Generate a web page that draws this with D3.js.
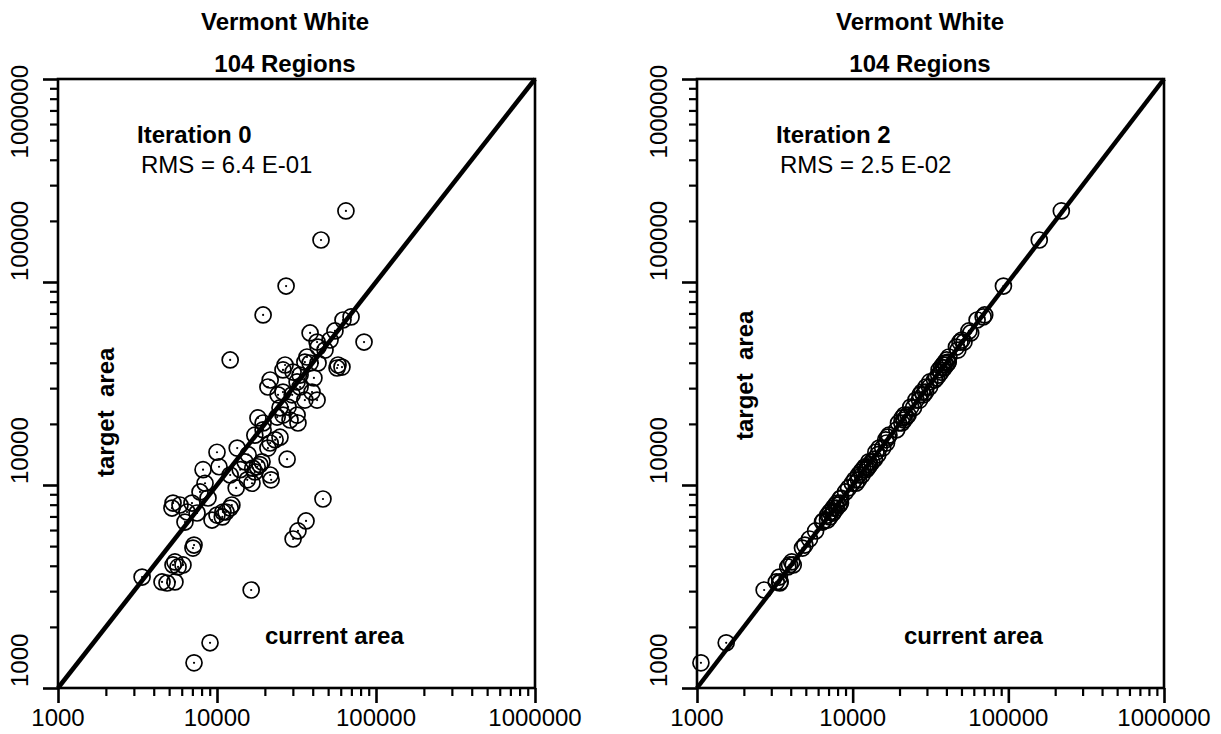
<!DOCTYPE html>
<html>
<head>
<meta charset="utf-8">
<script src="https://cdn.jsdelivr.net/npm/d3@7"></script>
<style>
  html, body { margin: 0; padding: 0; background: #fff; }
  svg { display: block; font-family: "Liberation Sans", Arial, Helvetica, sans-serif; }
</style>
</head>
<body>
<svg id="chart" width="1221" height="734"></svg>
<script>
// ---- text ----
const titleLine1 = "Vermont White";
const titleLine2 = "104 Regions";
const iterationLabels = ["Iteration 0", "Iteration 2"];
const rmsLabels = ["RMS = 6.4 E-01", "RMS = 2.5 E-02"];
const xAxisTitle = "current area";
const yAxisTitle = "target  area";

// ---- tick labels (log axes, both panels) ----
const majorTicks = [1000, 10000, 100000, 1000000];

// ---- data: one entry per region ----
// target area (the same for every iteration)
const targetArea = [
  224000, 161000, 95500, 68800, 41300, 50600, 65000, 67300, 57400, 56100,
  50600, 47800, 39000, 38100, 37700, 42700, 40300, 39900, 39900, 39000,
  36900, 32900, 30400, 32200, 30400, 28700, 28700, 26200, 24200, 22100,
  20200, 21400, 21600, 24000, 17600, 16100, 17200, 15200, 13400, 12300,
  12600, 11200, 11200, 14500, 11900, 12300, 10200, 9670, 8630, 12100,
  11600, 10600, 10200, 10600, 16700, 20200, 22100, 8150, 7700, 8150,
  7360, 7280, 6570, 7110, 6960, 7360, 7970, 7700, 4890, 5060,
  4180, 3950, 4040, 3520, 3330, 3290, 3330, 3040, 1670, 1330,
  8530, 6650, 5940, 5420, 34800, 27800, 26200, 18700, 14100, 13000,
  11900, 7360, 6720, 7970, 46200, 51800, 36000, 27800, 20900, 15200,
  13000, 9240, 4040, 33700
];

// current area at iteration 0
const currentAreaIter0 = [
  64700, 45100, 27200, 19500, 12100, 84100, 62000, 69700, 55200, 38500,
  42600, 43200, 57700, 61100, 56900, 36800, 35700, 38500, 43200, 26800,
  26000, 21600, 20900, 31900, 33300, 26000, 39600, 42600, 28000, 31900,
  32300, 18100, 23900, 24900, 17300, 21600, 24900, 13400, 27600, 17900,
  18600, 21600, 12100, 10000, 8170, 10300, 8410, 13200, 8780, 16800,
  17300, 15500, 16600, 21900, 23200, 19500, 26000, 5290, 5210, 6960,
  6480, 7490, 6290, 10000, 10800, 10900, 12400, 12100, 7060, 7170,
  5440, 5690, 5290, 3380, 4510, 4850, 5440, 16400, 9040, 7170,
  46400, 36300, 32300, 30100, 33300, 29700, 35700, 19500, 15700, 19200,
  14000, 11400, 9300, 5850, 47800, 51400, 30100, 24200, 28800, 20900,
  15000, 7820, 6110, 40700
];

// current area at iteration 2
const currentAreaIter2 = [
  219000, 158000, 93000, 70500, 40200, 48900, 63000, 68900, 55800, 57300,
  51900, 46400, 39800, 37200, 38600, 41500, 41100, 38900, 40800, 38100,
  35900, 33600, 29600, 31300, 31200, 27900, 29400, 26900, 23600, 22700,
  19700, 20800, 22100, 24600, 17100, 16500, 16800, 14800, 13800, 12000,
  12900, 11500, 10900, 14100, 11600, 12600, 10500, 9420, 8400, 12400,
  11300, 10300, 9950, 10900, 16300, 20700, 21500, 7950, 7500, 8350,
  7170, 7460, 6400, 6920, 7130, 7540, 8180, 7880, 4760, 4930,
  4060, 3830, 4150, 3380, 3230, 3400, 3420, 2700, 1540, 1060,
  8300, 6480, 5780, 5280, 35700, 28500, 25500, 19200, 14500, 12700,
  12200, 7200, 6890, 7770, 47400, 50300, 36900, 27100, 21400, 15600,
  13300, 9000, 3930, 34500
];

// ---- layout of the two panels ----
const panels = [
  { left: 58,  right: 535,  current: currentAreaIter0, iter: 0, titleX: 285, yTitleY: 477 },
  { left: 697, right: 1164, current: currentAreaIter2, iter: 1, titleX: 920, yTitleY: 440 }
];
const plotTop = 79, plotBottom = 688;

const svg = d3.select("#chart");

panels.forEach(p => {
  const g = svg.append("g");
  const x = d3.scaleLog().domain([1000, 1000000]).range([p.left, p.right]);
  const y = d3.scaleLog().domain([1000, 1000000]).range([plotBottom, plotTop]);
  const minorX = x.ticks().filter(v => !majorTicks.includes(v));
  const minorY = y.ticks().filter(v => !majorTicks.includes(v));

  // titles
  g.append("text").attr("x", p.titleX).attr("y", 30)
    .attr("text-anchor", "middle").attr("font-weight", "bold").attr("font-size", 24)
    .text(titleLine1);
  g.append("text").attr("x", p.titleX).attr("y", 72)
    .attr("text-anchor", "middle").attr("font-weight", "bold").attr("font-size", 24)
    .text(titleLine2);

  // points: open circles with a centre dot
  const pts = targetArea.map((t, i) => ({ cur: p.current[i], tgt: t }));
  const pg = g.append("g");
  pts.forEach(d => {
    pg.append("circle").attr("cx", x(d.cur)).attr("cy", y(d.tgt)).attr("r", 8)
      .attr("fill", "none").attr("stroke", "#000").attr("stroke-width", 1.7);
    pg.append("circle").attr("cx", x(d.cur)).attr("cy", y(d.tgt)).attr("r", 1.1)
      .attr("fill", "#000");
  });

  // 1:1 line
  const dom = x.domain();
  g.append("line")
    .attr("x1", x(dom[0])).attr("y1", y(dom[0]))
    .attr("x2", x(dom[1])).attr("y2", y(dom[1]))
    .attr("stroke", "#000").attr("stroke-width", 4.5);

  // frame
  g.append("rect").attr("x", p.left).attr("y", plotTop)
    .attr("width", p.right - p.left).attr("height", plotBottom - plotTop)
    .attr("fill", "none").attr("stroke", "#000").attr("stroke-width", 2.6);

  // bottom axis: major + minor ticks
  const axB = g.append("g").attr("transform", `translate(0,${plotBottom})`)
    .call(d3.axisBottom(x).tickValues(majorTicks).tickSize(15).tickFormat(""));
  axB.select(".domain").remove();
  axB.selectAll("line").attr("stroke-width", 2.6);
  const axBm = g.append("g").attr("transform", `translate(0,${plotBottom})`)
    .call(d3.axisBottom(x).tickValues(minorX).tickSize(8).tickFormat(""));
  axBm.select(".domain").remove();
  axBm.selectAll("line").attr("stroke-width", 2.2);

  // left axis: major + minor ticks
  const axL = g.append("g").attr("transform", `translate(${p.left},0)`)
    .call(d3.axisLeft(y).tickValues(majorTicks).tickSize(15).tickFormat(""));
  axL.select(".domain").remove();
  axL.selectAll("line").attr("stroke-width", 2.6);
  const axLm = g.append("g").attr("transform", `translate(${p.left},0)`)
    .call(d3.axisLeft(y).tickValues(minorY).tickSize(8).tickFormat(""));
  axLm.select(".domain").remove();
  axLm.selectAll("line").attr("stroke-width", 2.2);

  // tick labels
  majorTicks.forEach(v => {
    g.append("text").attr("x", x(v)).attr("y", 726)
      .attr("text-anchor", "middle").attr("font-size", 24).text(String(v));
  });
  majorTicks.forEach((v, i) => {
    const last = i === majorTicks.length - 1;
    g.append("text")
      .attr("transform", `translate(${p.left - 30},${y(v)}) rotate(-90)`)
      .attr("x", last ? 14 : 1)
      .attr("text-anchor", last ? "end" : "start")
      .attr("font-size", 24).text(String(v));
  });

  // annotations
  g.append("text").attr("x", p.left + 79).attr("y", 143)
    .attr("font-weight", "bold").attr("font-size", 24).text(iterationLabels[p.iter]);
  g.append("text").attr("x", p.left + 83).attr("y", 173)
    .attr("font-size", 24).text(rmsLabels[p.iter]);

  // axis titles
  g.append("text").attr("x", p.left + 207).attr("y", 644)
    .attr("font-weight", "bold").attr("font-size", 24).text(xAxisTitle);
  g.append("text")
    .attr("transform", `translate(${p.left + 56},${p.yTitleY}) rotate(-90)`)
    .attr("font-weight", "bold").attr("font-size", 24)
    .style("white-space", "pre").text(yAxisTitle);
});
</script>
</body>
</html>
